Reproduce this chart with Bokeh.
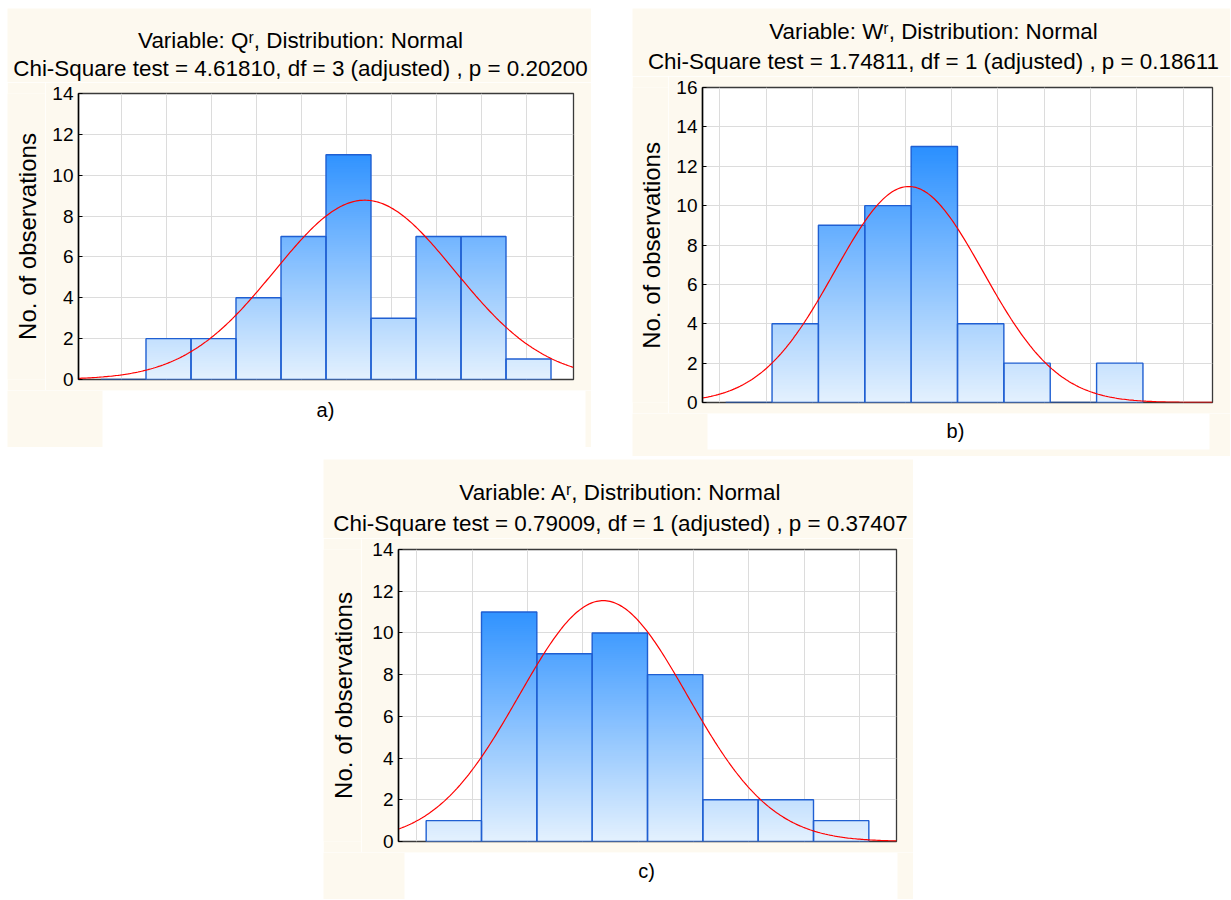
import numpy as np
from bokeh.plotting import figure
from bokeh.models import Range1d, FixedTicker, Spacer
from bokeh.layouts import row, column
from bokeh.embed import file_html
from bokeh.resources import INLINE
from bokeh.core.properties import value

FONT = "Liberation Sans"
CREAM = "#fdf9ef"

# ---------------- data ----------------
# panel a
counts_a = [0, 2, 2, 4, 7, 11, 3, 7, 7, 1]
xlim_a = (-0.5, 10.5)
vgrid_a = [0.45, 1.45, 2.45, 3.45, 4.45, 5.45, 6.45, 7.45, 8.45, 9.45]
mean_a, sd_a = 5.86, 2.0
yticks_a = [0, 2, 4, 6, 8, 10, 12, 14]
title1_a = "Variable: Q\u02b3, Distribution: Normal"
title2_a = "Chi-Square test = 4.61810, df = 3 (adjusted) , p = 0.20200"
letter_a = "a)"

# panel b
counts_b = [0, 4, 9, 10, 13, 4, 2, 0, 2]
xlim_b = (-0.5, 10.5)
vgrid_b = [-0.13, 0.87, 1.87, 2.87, 3.87, 4.87, 5.87, 6.87, 7.87, 8.87, 9.87]
mean_b, sd_b = 3.95, 1.6
yticks_b = [0, 2, 4, 6, 8, 10, 12, 14, 16]
title1_b = "Variable: W\u02b3, Distribution: Normal"
title2_b = "Chi-Square test = 1.74811, df = 1 (adjusted) , p = 0.18611"
letter_b = "b)"

# panel c
counts_c = [1, 11, 9, 10, 8, 2, 2, 1]
xlim_c = (-0.5, 8.5)
vgrid_c = [-0.17, 0.83, 1.83, 2.83, 3.83, 4.83, 5.83, 6.83, 7.83]
mean_c, sd_c = 3.2, 1.52
yticks_c = [0, 2, 4, 6, 8, 10, 12, 14]
title1_c = "Variable: A\u02b3, Distribution: Normal"
title2_c = "Chi-Square test = 0.79009, df = 1 (adjusted) , p = 0.37407"
letter_c = "c)"

YLABEL = "No. of observations"

LIGHT = np.array([228, 241, 254])
DARK = np.array([45, 145, 255])


def shade(y, ymax):
    t = min(1.0, max(0.0, y / (0.8 * ymax)))
    c = LIGHT + (DARK - LIGHT) * t
    return "#%02x%02x%02x" % tuple(int(round(v)) for v in c)


def band(w, h, texts, white=None):
    """A plain strip whose frame fills the canvas (pixel coordinates) with caption texts."""
    q = figure(width=w, height=h, x_range=Range1d(0, w), y_range=Range1d(0, h),
               x_axis_type=None, y_axis_type=None, output_backend="svg",
               toolbar_location=None, title=None,
               min_border_left=0, min_border_right=0, min_border_top=0, min_border_bottom=0)
    q.background_fill_color = CREAM
    q.border_fill_color = CREAM
    q.outline_line_color = None
    if white is not None:
        wl, wr, wb = white
        q.quad(left=[wl], right=[w - wr], bottom=[wb], top=[h],
               fill_color="white", line_color=None)
    for (tx, ty, txt, size, ang) in texts:
        q.text(x=[tx], y=[ty], text=[txt], angle=ang, text_align="center",
               text_baseline="middle", text_font=value(FONT), text_font_size=size,
               text_color="black")
    return q


def chart(counts, xlim, mean, sd, yticks, vgrid, w, h, bl, br):
    ymax = yticks[-1]
    p = figure(width=w, height=h, x_range=Range1d(*xlim), y_range=Range1d(0, ymax),
               output_backend="svg", toolbar_location=None, title=None,
               min_border_left=bl, min_border_right=br, min_border_top=11, min_border_bottom=11)
    p.background_fill_color = "white"
    p.border_fill_color = CREAM
    p.outline_line_color = "#3a3a3a"
    p.outline_line_width = 1.3

    # gradient bars as horizontal slices
    step = 0.1
    L, R, B, T, C = [], [], [], [], []
    for i, c in enumerate(counts):
        y = 0.0
        while y < c - 1e-9:
            y1 = min(y + step, c)
            L.append(i); R.append(i + 1); B.append(y)
            T.append(min(y + 1.6 * step, c))
            C.append(shade(0.5 * (y + y1), ymax))
            y = y1
    p.quad(left=L, right=R, bottom=B, top=T, fill_color=C, line_color=None)
    idx = list(range(len(counts)))
    p.quad(left=idx, right=[i + 1 for i in idx], bottom=[0] * len(counts), top=counts,
           fill_color=None, line_color="#1f5fd2", line_width=1.4)

    # fitted normal curve (expected counts per unit-width class)
    n = sum(counts)
    xs = np.linspace(xlim[0], xlim[1], 300)
    ys = n * np.exp(-0.5 * ((xs - mean) / sd) ** 2) / (sd * np.sqrt(2 * np.pi))
    p.line(xs, ys, line_color="#ff0000", line_width=1.2)

    p.xaxis.visible = False
    p.xgrid.ticker = FixedTicker(ticks=vgrid)
    p.yaxis.ticker = FixedTicker(ticks=yticks)
    p.ygrid.ticker = FixedTicker(ticks=yticks)
    p.grid.grid_line_color = "#dcdcdc"
    p.grid.grid_line_width = 1
    p.yaxis.minor_tick_line_color = None
    p.yaxis.major_tick_in = 4
    p.yaxis.major_tick_out = 0
    p.yaxis.major_tick_line_color = "black"
    p.yaxis.axis_line_color = "black"
    p.yaxis.axis_line_width = 1.5
    p.yaxis.major_label_text_font = FONT
    p.yaxis.major_label_text_font_size = "19px"
    p.yaxis.major_label_text_color = "black"
    p.yaxis.major_label_standoff = 5
    return p


def panel(counts, xlim, mean, sd, yticks, vgrid, t1, t2, letter, g):
    W = g["W"]
    top = band(W, g["Ht"], [(g["tx"], g["ty1"], t1, "22.4px", 0),
                            (g["tx"], g["ty2"], t2, "22.4px", 0)])
    left = band(g["Lw"], g["Hm"], [(g["ax"], g["ay"], YLABEL, "24px", np.pi / 2)])
    main = chart(counts, xlim, mean, sd, yticks, vgrid, W - g["Lw"], g["Hm"], g["bl"], g["br"])
    bottom = band(W, g["Hb"], [(g["lx"], g["ly"], letter, "20px", 0)], white=g["white"])
    return column(top, row(left, main, spacing=0), bottom, spacing=0)


geom_a = dict(W=584, Ht=74, tx=293, ty1=42, ty2=14,
              Lw=38, Hm=308, ax=20, ay=154, bl=33, br=18,
              Hb=57, white=(95, 6, 0), lx=318, ly=38)
geom_b = dict(W=598, Ht=68, tx=301, ty1=45.5, ty2=15.5,
              Lw=36, Hm=337, ax=19, ay=168, bl=34, br=18,
              Hb=43, white=(75, 21, 7), lx=323, ly=26)
geom_c = dict(W=590, Ht=79, tx=297, ty1=46, ty2=15.5,
              Lw=38, Hm=314, ax=20, ay=157, bl=37, br=17,
              Hb=47, white=(81, 16, 0), lx=323, ly=29)

pa = panel(counts_a, xlim_a, mean_a, sd_a, yticks_a, vgrid_a, title1_a, title2_a, letter_a, geom_a)
pb = panel(counts_b, xlim_b, mean_b, sd_b, yticks_b, vgrid_b, title1_b, title2_b, letter_b, geom_b)
pc = panel(counts_c, xlim_c, mean_c, sd_c, yticks_c, vgrid_c, title1_c, title2_c, letter_c, geom_c)

layout = column(
    Spacer(width=10, height=8),
    row(Spacer(width=7, height=10), pa, Spacer(width=41, height=10), pb, spacing=0),
    Spacer(width=10, height=3),
    row(Spacer(width=323, height=10), pc, spacing=0),
    spacing=0,
)

open("out.html", "w").write(file_html(layout, INLINE))
